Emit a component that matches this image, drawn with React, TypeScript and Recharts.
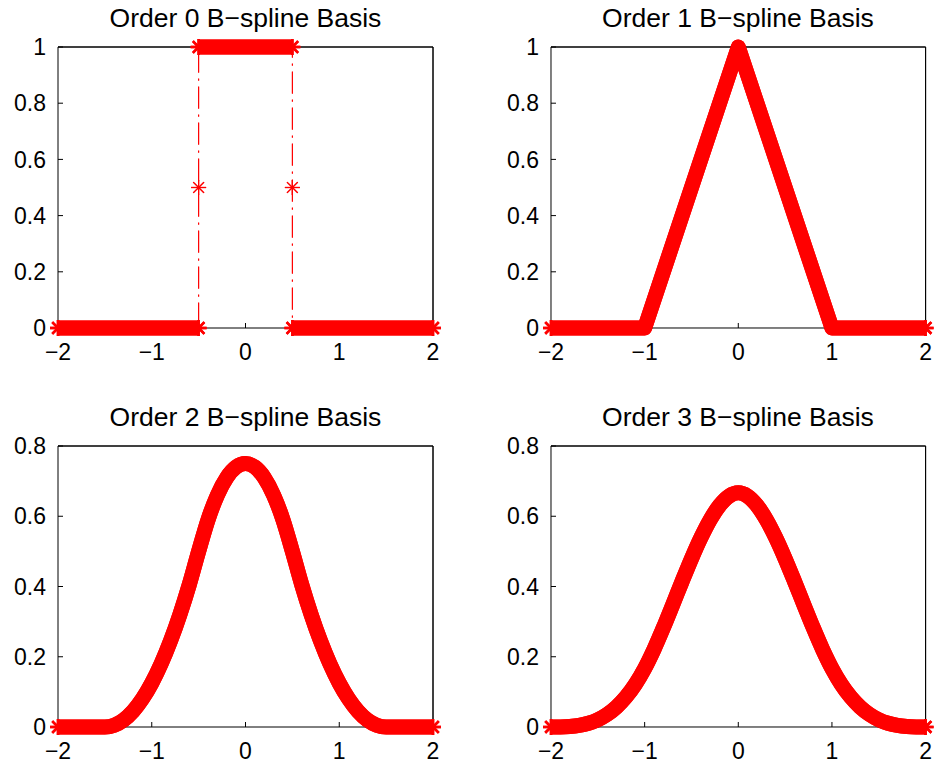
import React from 'react';
import { ComposedChart, Line, Scatter, XAxis, YAxis, ReferenceLine } from 'recharts';

const FONT = '"Liberation Sans", Arial, Helvetica, sans-serif';
const RED = '#ff0000';

// ---- tick labels / categories ----
const xTicks = [-2, -1, 0, 1, 2];
const yTicksTop = [0, 0.2, 0.4, 0.6, 0.8, 1];
const yTicksBottom = [0, 0.2, 0.4, 0.6, 0.8];
const titles = [
  'Order 0 B\u2212spline Basis',
  'Order 1 B\u2212spline Basis',
  'Order 2 B\u2212spline Basis',
  'Order 3 B\u2212spline Basis',
];

// ---- Order 0 ----
const order0LeftX = [-2, -0.5];
const order0LeftY = [0, 0];
const order0MidX = [-0.5, 0.5];
const order0MidY = [1, 1];
const order0RightX = [0.5, 2];
const order0RightY = [0, 0];
const order0TraceX = [-2, -0.5, -0.5, -0.5, 0.5, 0.5, 0.5, 2];
const order0TraceY = [0, 0, 0.5, 1, 1, 0.5, 0, 0];
const order0StarX = [-0.5, 0.5];
const order0StarY = [0.5, 0.5];

// ---- Order 1 ----
const order1X = [-2, -1, 0, 1, 2];
const order1Y = [0, 0, 1, 0, 0];

// ---- Order 2 / 3 sampled curves ----
const curveX = [
  -2, -1.9, -1.8, -1.7, -1.6, -1.5, -1.4, -1.3, -1.2, -1.1, -1, -0.9, -0.8, -0.7, -0.6, -0.5, -0.4, -0.3, -0.2, -0.1,
  0, 0.1, 0.2, 0.3, 0.4, 0.5, 0.6, 0.7, 0.8, 0.9, 1, 1.1, 1.2, 1.3, 1.4, 1.5, 1.6, 1.7, 1.8, 1.9, 2,
];
const order2Y = [
  0, 0, 0, 0, 0, 0, 0.005, 0.02, 0.045, 0.08, 0.125, 0.18, 0.245, 0.32, 0.405, 0.5, 0.59, 0.66, 0.71, 0.74,
  0.75, 0.74, 0.71, 0.66, 0.59, 0.5, 0.405, 0.32, 0.245, 0.18, 0.125, 0.08, 0.045, 0.02, 0.005, 0, 0, 0, 0, 0, 0,
];
const order3Y = [
  0, 0.0002, 0.0013, 0.0045, 0.0107, 0.0208, 0.036, 0.0572, 0.0853, 0.1215, 0.1667, 0.2212, 0.2827, 0.3482, 0.4147,
  0.4792, 0.5387, 0.5902, 0.6307, 0.6572, 0.6667, 0.6572, 0.6307, 0.5902, 0.5387, 0.4792, 0.4147, 0.3482, 0.2827,
  0.2212, 0.1667, 0.1215, 0.0853, 0.0572, 0.036, 0.0208, 0.0107, 0.0045, 0.0013, 0.0002, 0,
];
const curveEndX = [-2, 2];
const curveEndY = [0, 0];

const zip = (xs: number[], ys: number[]) => xs.map((x, i) => ({ x, y: ys[i] }));

const fmtX = (v: number) => (v < 0 ? '\u2212' + Math.abs(v) : String(v));
const fmtY = (v: number) => String(Math.round(v * 10) / 10);

const X_MARGIN = 15.5;
const Y_MARGIN = 12;
const TICK_LEN = 5;
const TICK_FONT = 23;
const TITLE_FONT = 26.5;

const XTickBottom = (p: any) => {
  const ay = p.y - X_MARGIN;
  return (
    <g>
      <line x1={p.x} x2={p.x} y1={ay} y2={ay - TICK_LEN} stroke="#000" strokeWidth={1} />
      <text x={p.x} y={p.y} dy="0.71em" textAnchor="middle" fontFamily={FONT} fontSize={TICK_FONT} fill="#000">
        {fmtX(p.payload.value)}
      </text>
    </g>
  );
};
const XTickTop = (p: any) => (
  <line x1={p.x} x2={p.x} y1={p.y} y2={p.y + TICK_LEN} stroke="#000" strokeWidth={1} />
);
const YTickLeft = (p: any) => {
  const ax = p.x + Y_MARGIN;
  return (
    <g>
      <line x1={ax} x2={ax + TICK_LEN} y1={p.y} y2={p.y} stroke="#000" strokeWidth={1} />
      <text x={p.x} y={p.y} dy="0.355em" textAnchor="end" fontFamily={FONT} fontSize={TICK_FONT} fill="#000">
        {fmtY(p.payload.value)}
      </text>
    </g>
  );
};
const YTickRight = (p: any) => (
  <line x1={p.x} x2={p.x - TICK_LEN} y1={p.y} y2={p.y} stroke="#000" strokeWidth={1} />
);

const Asterisk = ({ cx, cy, r, sw }: { cx: number; cy: number; r: number; sw: number }) => {
  const d = r * 0.72;
  return (
    <g stroke={RED} strokeWidth={sw}>
      <line x1={cx - r} x2={cx + r} y1={cy} y2={cy} />
      <line x1={cx} x2={cx} y1={cy - r} y2={cy + r} />
      <line x1={cx - d} x2={cx + d} y1={cy - d} y2={cy + d} />
      <line x1={cx - d} x2={cx + d} y1={cy + d} y2={cy - d} />
    </g>
  );
};

const bandStar = (p: any) => <Asterisk cx={p.cx} cy={p.cy} r={8} sw={2.5} />;
const thinStar = (p: any) => <Asterisk cx={p.cx} cy={p.cy} r={7.5} sw={1.2} />;

const band = (data: { x: number; y: number }[], key: string, curve = false) => (
  <Line
    key={key}
    data={data}
    dataKey="y"
    type={curve ? 'monotone' : 'linear'}
    stroke={RED}
    strokeWidth={15}
    strokeLinejoin="round"
    strokeLinecap="butt"
    dot={false}
    activeDot={false}
    isAnimationActive={false}
  />
);
const ends = (data: { x: number; y: number }[], key: string) => (
  <Scatter key={key} data={data} dataKey="y" shape={bandStar} isAnimationActive={false} />
);

const ML = 10;
const YW = 50;
const MT = 12;
const MR = 16;
const XH = 45;
const MB = 5;

function Panel({
  x0,
  y0,
  w,
  h,
  yDomain,
  yTicks,
  children,
}: {
  x0: number;
  y0: number;
  w: number;
  h: number;
  yDomain: [number, number];
  yTicks: number[];
  children: React.ReactNode;
}) {
  const cw = w + ML + YW + MR;
  const ch = h + MT + XH + MB;
  const baseMargin = { top: MT - 1, right: MR - 1, bottom: MB, left: ML };
  const margin = { top: MT, right: MR, bottom: MB, left: ML };
  return (
    <div style={{ position: 'absolute', left: x0 - ML - YW, top: y0 - MT, width: cw, height: ch }}>
      {/* base layer: box frame, ticks, tick labels (series drawn too) */}
      <div style={{ position: 'absolute', left: 0, top: 0 }}>
        <ComposedChart width={cw} height={ch} margin={baseMargin} style={{ overflow: 'visible' }}>
          <XAxis
            dataKey="x"
            type="number"
            domain={[-2, 2]}
            ticks={xTicks}
            interval={0}
            height={XH}
            tickSize={0}
            tickMargin={X_MARGIN}
            tick={XTickBottom}
            axisLine={{ stroke: '#000', strokeWidth: 1 }}
          />
          <XAxis
            xAxisId="top"
            orientation="top"
            dataKey="x"
            type="number"
            domain={[-2, 2]}
            ticks={xTicks}
            interval={0}
            height={1}
            tickSize={0}
            tickMargin={0}
            tick={XTickTop}
            axisLine={{ stroke: '#000', strokeWidth: 1 }}
          />
          <YAxis
            type="number"
            domain={yDomain}
            ticks={yTicks}
            interval={0}
            width={YW}
            tickSize={0}
            tickMargin={Y_MARGIN}
            tick={YTickLeft}
            axisLine={{ stroke: '#000', strokeWidth: 1 }}
          />
          <YAxis
            yAxisId="right"
            orientation="right"
            type="number"
            domain={yDomain}
            ticks={yTicks}
            interval={0}
            width={1}
            tickSize={0}
            tickMargin={0}
            tick={YTickRight}
            axisLine={{ stroke: '#000', strokeWidth: 1 }}
          />
          <ReferenceLine y={yDomain[1]} stroke="#000" strokeWidth={1} />
          <ReferenceLine x={2} stroke="#000" strokeWidth={1} />
          {children}
        </ComposedChart>
      </div>
      {/* series layer again, drawn above the frame lines */}
      <div style={{ position: 'absolute', left: 0, top: 0 }}>
        <ComposedChart width={cw} height={ch} margin={margin} style={{ overflow: 'visible' }}>
          <XAxis
            dataKey="x"
            type="number"
            domain={[-2, 2]}
            ticks={xTicks}
            height={XH}
            tick={false}
            tickLine={false}
            axisLine={false}
          />
          <YAxis type="number" domain={yDomain} ticks={yTicks} width={YW} tick={false} tickLine={false} axisLine={false} />
          {children}
        </ComposedChart>
      </div>
    </div>
  );
}

export default function App() {
  const o0L = zip(order0LeftX, order0LeftY);
  const o0M = zip(order0MidX, order0MidY);
  const o0R = zip(order0RightX, order0RightY);
  const o0Trace = zip(order0TraceX, order0TraceY);
  const o0Stars = zip(order0StarX, order0StarY);
  const o0Ends = [...o0L, ...o0M, ...o0R];
  const o1 = zip(order1X, order1Y);
  const o1Ends = [o1[0], o1[o1.length - 1]];
  const o2 = zip(curveX, order2Y);
  const o3 = zip(curveX, order3Y);
  const cEnds = zip(curveEndX, curveEndY);

  const W = 375;
  const H = 281;
  return (
    <div style={{ position: 'absolute', left: 0, top: 0, width: 935, height: 765, background: '#fff' }}>
      <Panel x0={58} y0={47} w={W} h={H} yDomain={[0, 1]} yTicks={yTicksTop}>
        <Line
          data={o0Trace}
          dataKey="y"
          type="linear"
          stroke={RED}
          strokeWidth={1}
          strokeDasharray="22 6 2 6"
          dot={false}
          activeDot={false}
          isAnimationActive={false}
        />
        {band(o0L, 'a')}
        {band(o0M, 'b')}
        {band(o0R, 'c')}
        {ends(o0Ends, 'd')}
        <Scatter data={o0Stars} dataKey="y" shape={thinStar} isAnimationActive={false} />
      </Panel>
      <Panel x0={550.7} y0={47} w={374.6} h={H} yDomain={[0, 1]} yTicks={yTicksTop}>
        {band(o1, 'a')}
        {ends(o1Ends, 'b')}
      </Panel>
      <Panel x0={58} y0={445.7} w={W} h={H} yDomain={[0, 0.8]} yTicks={yTicksBottom}>
        {band(o2, 'a', true)}
        {ends(cEnds, 'b')}
      </Panel>
      <Panel x0={550.7} y0={445.7} w={374.6} h={H} yDomain={[0, 0.8]} yTicks={yTicksBottom}>
        {band(o3, 'a', true)}
        {ends(cEnds, 'b')}
      </Panel>
      <svg
        width={935}
        height={765}
        style={{ position: 'absolute', left: 0, top: 0, pointerEvents: 'none' }}
      >
        <text x={245.5} y={26.5} textAnchor="middle" fontFamily={FONT} fontSize={TITLE_FONT} fill="#000">
          {titles[0]}
        </text>
        <text x={738} y={26.5} textAnchor="middle" fontFamily={FONT} fontSize={TITLE_FONT} fill="#000">
          {titles[1]}
        </text>
        <text x={245.5} y={426} textAnchor="middle" fontFamily={FONT} fontSize={TITLE_FONT} fill="#000">
          {titles[2]}
        </text>
        <text x={738} y={426} textAnchor="middle" fontFamily={FONT} fontSize={TITLE_FONT} fill="#000">
          {titles[3]}
        </text>
      </svg>
    </div>
  );
}
